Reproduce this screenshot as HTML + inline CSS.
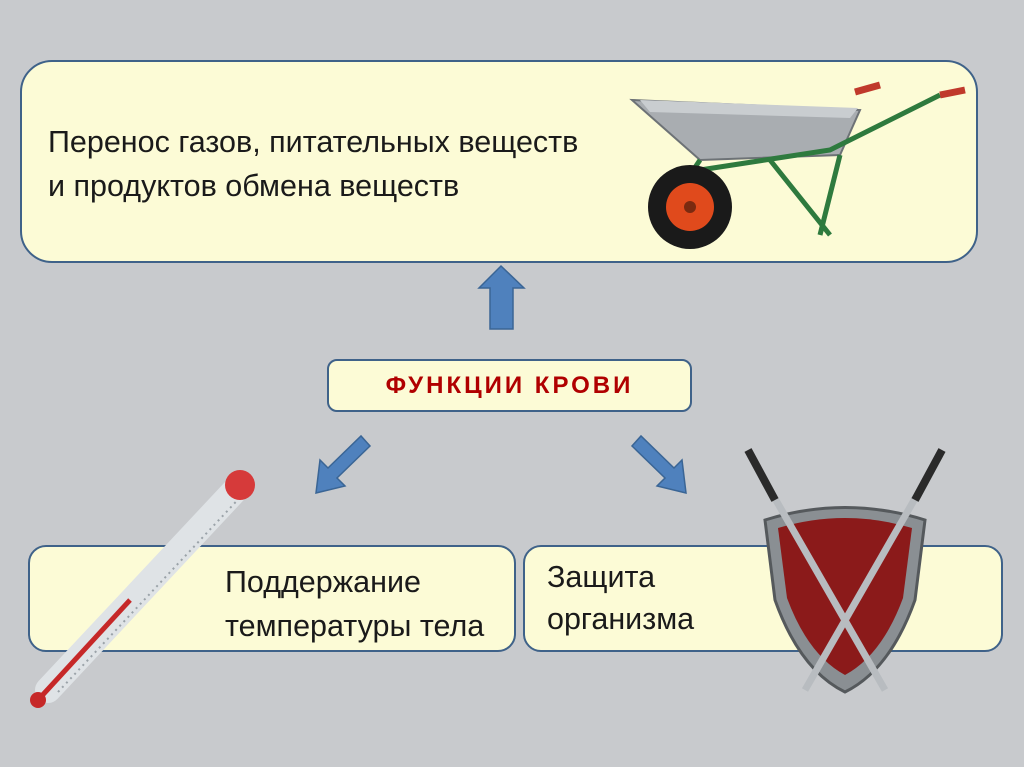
<!DOCTYPE html>
<html><head><meta charset="utf-8"><style>
body{margin:0;width:1024px;height:767px;overflow:hidden;background:#c8cacd;font-family:"Liberation Sans","DejaVu Sans",sans-serif;position:relative}
.box{position:absolute;background:#fcfbd6;border:2.5px solid #3f6289;border-radius:26px;box-sizing:border-box}
.t{position:absolute;font-size:30.5px;color:#1a1a1a;line-height:44px;white-space:nowrap}
</style></head><body>
<div class="box" style="left:20px;top:60px;width:958px;height:203px;border-radius:32px"></div>
<div class="t" style="left:48px;top:120px">Перенос газов, питательных веществ<br>и продуктов обмена веществ</div>
<div class="box" style="left:327px;top:359px;width:365px;height:53px;border-radius:10px"></div>
<div style="position:absolute;left:327px;top:359px;width:365px;height:53px;line-height:53px;text-align:center;color:#b00000;font-weight:bold;font-size:24px;letter-spacing:3px">ФУНКЦИИ КРОВИ</div>
<div class="box" style="left:28px;top:545px;width:488px;height:107px;border-radius:18px"></div>
<div class="box" style="left:523px;top:545px;width:480px;height:107px;border-radius:18px"></div>
<div class="t" style="left:225px;top:560px">Поддержание<br>температуры тела</div>
<div class="t" style="left:547px;top:556px;line-height:42px">Защита<br>организма</div>
<svg width="1024" height="767" style="position:absolute;left:0;top:0">
<g fill="#4f81bd" stroke="#3a6595" stroke-width="1.5">
<polygon points="501,266 524,288 513,288 513,329 490,329 490,288 479,288"/>
<polygon points="316,493 320,460 328,468 361,436 370,446 337,478 345,486"/>
<polygon points="686,493 682,460 674,468 641,436 632,446 665,478 657,486"/>
</g>
<g>
<polygon points="632,100 860,110 840,155 700,160" fill="#a9adb1" stroke="#6d7276" stroke-width="2"/>
<polygon points="640,100 858,108 850,118 650,112" fill="#c9cdd0"/>
<path d="M700,160 L660,220 M770,160 L830,235 M840,155 L820,235 M700,170 L830,150 L940,95" stroke="#2e7a3e" stroke-width="5" fill="none"/>
<line x1="940" y1="95" x2="965" y2="90" stroke="#c0392b" stroke-width="7"/>
<line x1="855" y1="92" x2="880" y2="85" stroke="#c0392b" stroke-width="7"/>
<circle cx="690" cy="207" r="42" fill="#1a1a1a"/>
<circle cx="690" cy="207" r="24" fill="#e04a1c"/>
<circle cx="690" cy="207" r="6" fill="#7a2a10"/>
</g>
<g>
<line x1="48" y1="690" x2="240" y2="485" stroke="#dfe3e6" stroke-width="26" stroke-linecap="round"/>
<line x1="50" y1="688" x2="238" y2="487" stroke="#9aa2a8" stroke-width="2" stroke-dasharray="2 4" transform="translate(8,4)"/>
<line x1="38" y1="700" x2="130" y2="600" stroke="#c62828" stroke-width="5"/>
<circle cx="240" cy="485" r="15" fill="#d63a3a"/>
<circle cx="38" cy="700" r="8" fill="#c62828"/>
</g>
<g>
<path d="M765,520 Q845,495 925,520 L915,600 Q890,670 845,692 Q800,670 775,600 Z" fill="#8a8f93" stroke="#55595c" stroke-width="3"/>
<path d="M778,528 Q845,508 912,528 L903,598 Q882,655 845,675 Q808,655 787,598 Z" fill="#8b1a1a"/>
<line x1="750" y1="455" x2="885" y2="690" stroke="#b8bcc0" stroke-width="7"/>
<line x1="940" y1="455" x2="805" y2="690" stroke="#b8bcc0" stroke-width="7"/>
<line x1="748" y1="450" x2="775" y2="500" stroke="#2a2a2a" stroke-width="8"/>
<line x1="942" y1="450" x2="915" y2="500" stroke="#2a2a2a" stroke-width="8"/>
</g>
</svg>
</body></html>
